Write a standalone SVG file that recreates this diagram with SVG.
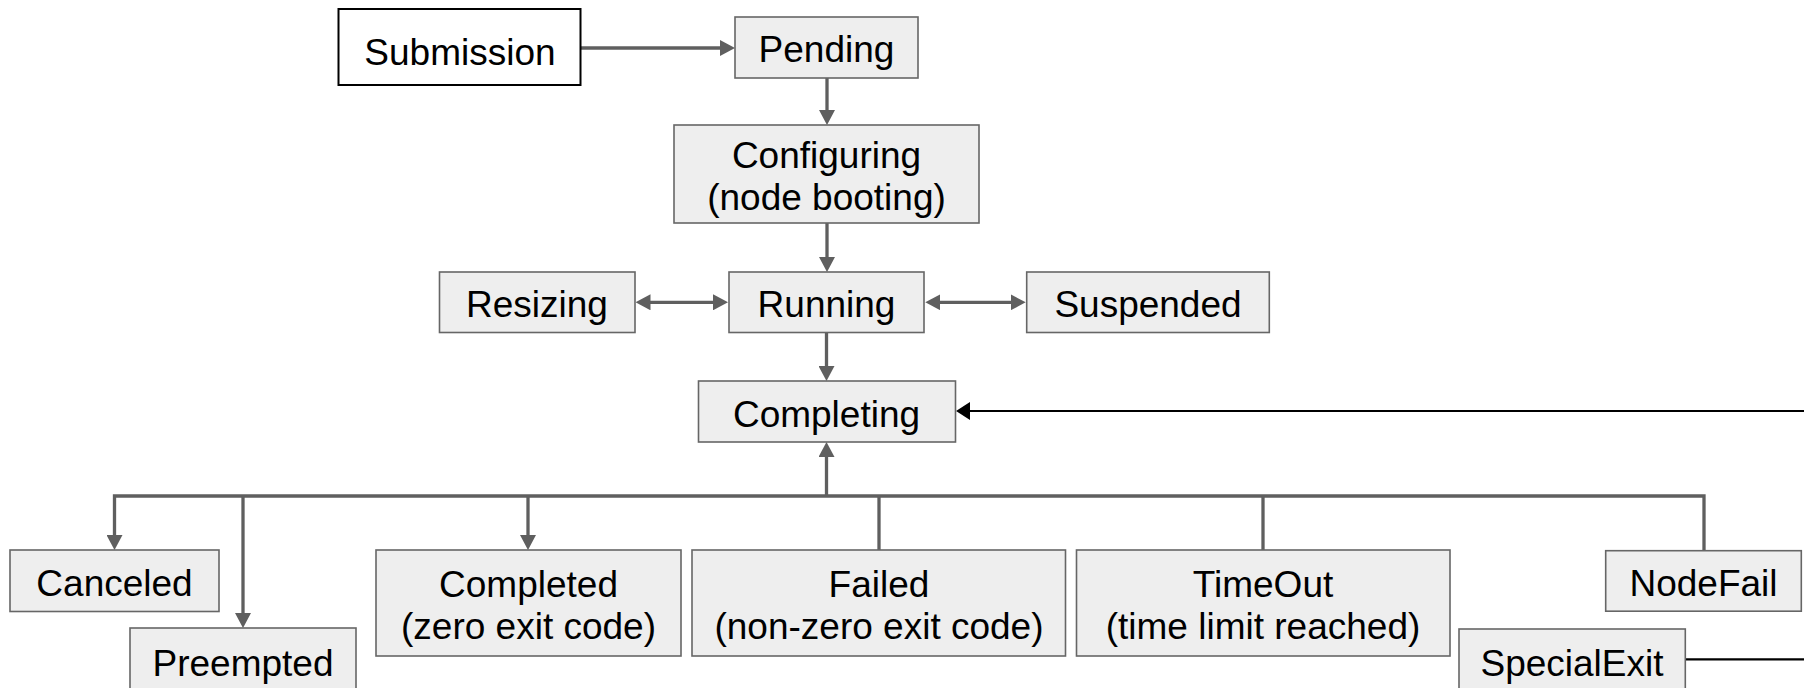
<svg xmlns="http://www.w3.org/2000/svg" width="1804" height="688" viewBox="0 0 1804 688">
  <style>
    .box { fill: #eeeeee; stroke: #666666; stroke-width: 1.6; }
    .start { fill: #ffffff; stroke: #000000; stroke-width: 2; }
    .lbl { font-family: "Liberation Sans", Arial, sans-serif; font-size: 37px; fill: #000000; text-anchor: middle; }
    .flow { fill: none; stroke: #5f5f5f; stroke-width: 3.3; }
    .back { fill: none; stroke: #000000; stroke-width: 2.2; }
  </style>
  <defs>
    <marker id="ah" markerUnits="userSpaceOnUse" markerWidth="15" markerHeight="16" viewBox="0 0 15 16" refX="10" refY="8" orient="auto-start-reverse">
      <path d="M0,0 L15,8 L0,16 z" fill="#5f5f5f"/>
    </marker>
    <marker id="ahBlack" markerUnits="userSpaceOnUse" markerWidth="14" markerHeight="18" viewBox="0 0 14 18" refX="9" refY="9" orient="auto">
      <path d="M0,0 L14,9 L0,18 z" fill="#000000"/>
    </marker>
  </defs>

  <!-- connectors -->
  <g id="connectors">
    <path class="flow" d="M581,48 H730" marker-end="url(#ah)"/>
    <path class="flow" d="M827,78 V120" marker-end="url(#ah)"/>
    <path class="flow" d="M827,223 V267" marker-end="url(#ah)"/>
    <path class="flow" d="M640.5,302.3 H723" marker-start="url(#ah)" marker-end="url(#ah)"/>
    <path class="flow" d="M930.3,302.3 H1020.7" marker-start="url(#ah)" marker-end="url(#ah)"/>
    <path class="flow" d="M826.5,332 V376" marker-end="url(#ah)"/>
    <!-- bus from the terminal states back up to Completing; the start marker points down into Canceled -->
    <path class="flow" d="M114.5,545 V496 H1704 V551" marker-start="url(#ah)"/>
    <path class="flow" d="M826.5,496 V447" marker-end="url(#ah)"/>
    <path class="flow" d="M243,496 V623" marker-end="url(#ah)"/>
    <path class="flow" d="M528,496 V545" marker-end="url(#ah)"/>
    <path class="flow" d="M879,496 V550"/>
    <path class="flow" d="M1263,496 V550"/>
    <path class="back" d="M1804,411 H961" marker-end="url(#ahBlack)"/>
    <path class="back" d="M1685,659.3 H1804"/>
  </g>

  <g id="submission">
    <rect class="start" x="338.5" y="9" width="242" height="76"/>
    <text class="lbl" x="460" y="65">Submission</text>
  </g>
  <g id="pending">
    <rect class="box" x="735" y="17" width="183" height="61"/>
    <text class="lbl" x="826.5" y="61.5">Pending</text>
  </g>
  <g id="configuring">
    <rect class="box" x="674" y="125" width="305" height="98"/>
    <text class="lbl" x="826.5" y="168">Configuring</text>
    <text class="lbl" x="826.5" y="209.5">(node booting)</text>
  </g>
  <g id="resizing">
    <rect class="box" x="439.5" y="272" width="195.5" height="60.5"/>
    <text class="lbl" x="537" y="317">Resizing</text>
  </g>
  <g id="running">
    <rect class="box" x="729" y="272" width="195" height="60.5"/>
    <text class="lbl" x="826.5" y="317">Running</text>
  </g>
  <g id="suspended">
    <rect class="box" x="1026.7" y="272" width="242.6" height="60.5"/>
    <text class="lbl" x="1148" y="317">Suspended</text>
  </g>
  <g id="completing">
    <rect class="box" x="698.5" y="381" width="257" height="61"/>
    <text class="lbl" x="826.5" y="426.5">Completing</text>
  </g>
  <g id="canceled">
    <rect class="box" x="10" y="550" width="209" height="61.5"/>
    <text class="lbl" x="114.5" y="596">Canceled</text>
  </g>
  <g id="preempted">
    <rect class="box" x="130" y="628" width="226" height="70"/>
    <text class="lbl" x="243" y="676">Preempted</text>
  </g>
  <g id="completed">
    <rect class="box" x="376" y="550" width="305" height="106"/>
    <text class="lbl" x="528.5" y="597">Completed</text>
    <text class="lbl" x="528.5" y="638.5">(zero exit code)</text>
  </g>
  <g id="failed">
    <rect class="box" x="692" y="550" width="373.5" height="106"/>
    <text class="lbl" x="879" y="597">Failed</text>
    <text class="lbl" x="879" y="638.5">(non-zero exit code)</text>
  </g>
  <g id="timeout">
    <rect class="box" x="1076.5" y="550" width="373.5" height="106"/>
    <text class="lbl" x="1263" y="597">TimeOut</text>
    <text class="lbl" x="1263" y="638.5">(time limit reached)</text>
  </g>
  <g id="nodefail">
    <rect class="box" x="1605.7" y="550.7" width="195.6" height="60.5"/>
    <text class="lbl" x="1703.5" y="596">NodeFail</text>
  </g>
  <g id="specialexit">
    <rect class="box" x="1459" y="629" width="226.3" height="70"/>
    <text class="lbl" x="1572" y="676">SpecialExit</text>
  </g>
</svg>
